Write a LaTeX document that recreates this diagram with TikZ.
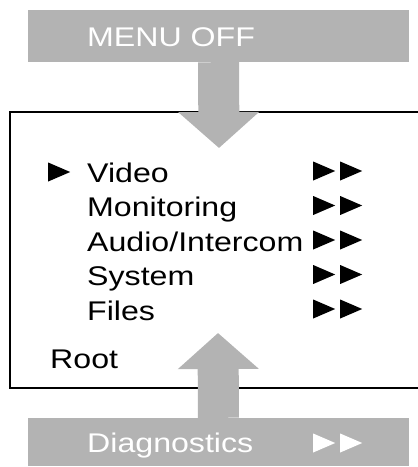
\documentclass[tikz,border=0pt]{standalone}
\usepackage{fontspec}
\setmainfont{Liberation Sans}[FakeStretch=1.19]
\usetikzlibrary{positioning,arrows.meta}
\definecolor{bargray}{HTML}{B3B3B3}
% one pointer glyph, drawn
\newcommand\pont{\tikz\fill (0pt,0pt) -- (22pt,9.5pt) -- (0pt,19pt) -- cycle;}

\begin{document}
\begin{tikzpicture}[x=1pt, y=-1pt,
      font=\fontsize{27}{30}\selectfont,
      barra/.style={fill=bargray, minimum width=381pt, minimum height=52pt, inner sep=0pt},
      rotulo/.style={anchor=base west, inner sep=0pt},
      ponta/.style={anchor=west, inner sep=0pt},
      bloco/.style={bargray, line width=41pt, -{Triangle[length=36pt, width=79pt]}},
      borda/.style={line width=2pt}]
    \useasboundingbox (0,0) rectangle (418,467);
    % menu frame, open on the right
    \coordinate (c1) at (418,112); \coordinate (c2) at (10,112);
    \coordinate (c3) at (10,388);  \coordinate (c4) at (418,388);
    \draw[borda] (c1) -- (c2) -- (c3) -- (c4);
    % grey bars and block arrows
    \node[barra] (menuoff) at (218.5,36) {};
    \node[barra, minimum height=48pt] (diag) at (218.5,442) {};
    \coordinate (baixo) at (219,148);
    \coordinate (cima) at (218,333);
    \draw[bloco] (menuoff.south) -- (baixo);
    \draw[bloco] (diag.north) -- (cima);
    \node[rotulo, text=white] (tmenu) at (87,46) {MENU OFF};
    \node[rotulo, text=white] (tdiag) at (87,452) {Diagnostics};
    \node[ponta, white] (pdiag) at (313,443) {\pont\hspace{5pt}\pont};
    % menu entries
    \node[ponta] (cursor) at (48,172) {\pont};
    \node[rotulo] (video) at (87,182) {Video};
    \node[rotulo] (monit) at (87,216.5) {Monitoring};
    \node[rotulo] (audio) at (87,251) {Audio/Intercom};
    \node[rotulo] (sist)  at (87,285.5) {System};
    \node[rotulo] (files) at (87,320) {Files};
    \node[ponta] (p1) at (313,171) {\pont\hspace{5pt}\pont};
    \node[ponta] (p2) at (313,205.5) {\pont\hspace{5pt}\pont};
    \node[ponta] (p3) at (313,240) {\pont\hspace{5pt}\pont};
    \node[ponta] (p4) at (313,274.5) {\pont\hspace{5pt}\pont};
    \node[ponta] (p5) at (313,309) {\pont\hspace{5pt}\pont};
    \node[rotulo] (root) at (50,368) {Root};
  \end{tikzpicture}
\end{document}
